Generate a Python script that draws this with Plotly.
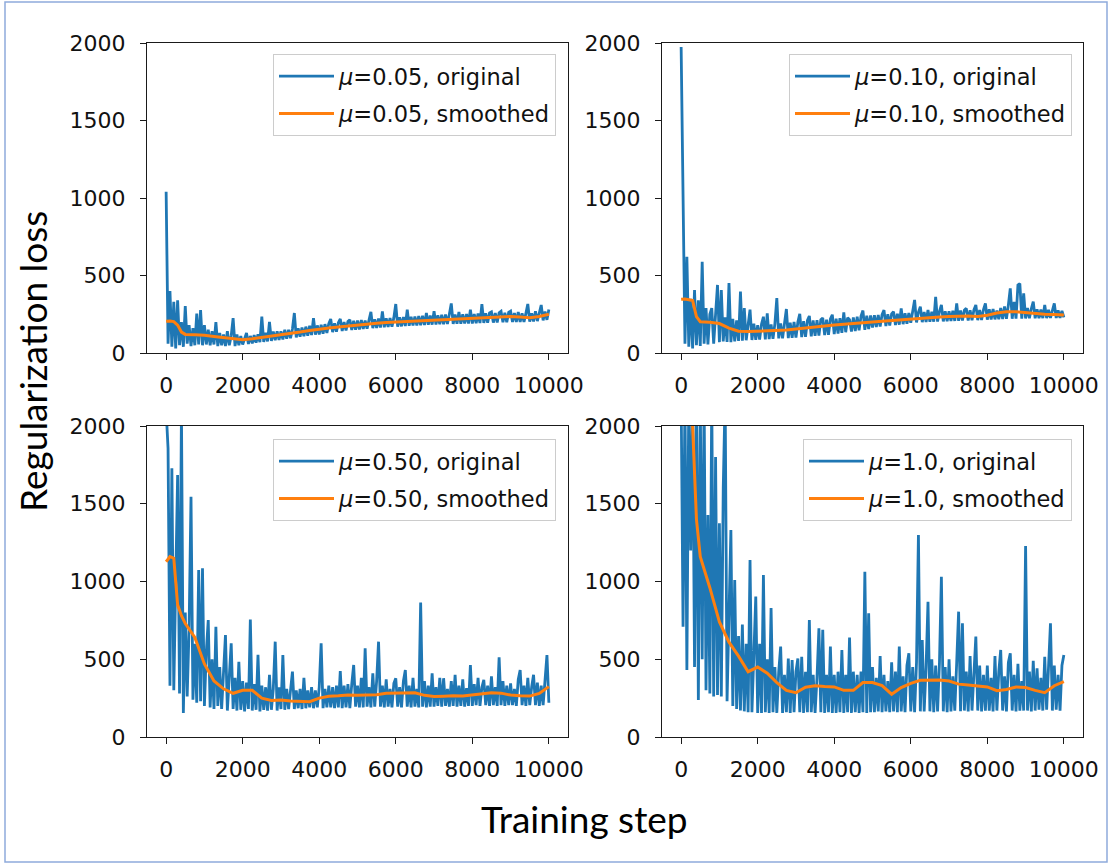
import plotly.graph_objects as go

# ---------------- data ----------------
steps_orig = list(range(0, 10001, 50))
steps_smooth = [0, 100, 200, 300, 400, 500] + list(range(750, 10001, 250))

x_tickvals = [0, 2000, 4000, 6000, 8000, 10000]
x_ticktext = ["0", "2000", "4000", "6000", "8000", "10000"]
y_tickvals = [0, 500, 1000, 1500, 2000]
y_ticktext = ["0", "500", "1000", "1500", "2000"]

mu_labels = ["0.05", "0.10", "0.50", "1.0"]

orig_005 = (
    [1040, 60, 400, 40, 330, 30, 340, 50, 200, 40, 303, 60, 180, 45, 160, 50, 255, 55, 277, 50]
    + [180, 55, 150, 50, 140, 55, 200, 45, 130, 50, 120, 45, 140, 50, 110, 225, 45, 120, 50, 110]
    + [55, 100, 129, 58, 110, 62, 115, 66, 120, 70, 234, 72, 130, 75, 200, 78, 138, 82, 140, 85]
    + [140, 88, 150, 92, 150, 96, 155, 258, 100, 160, 105, 165, 108, 170, 112, 175, 116, 225, 118, 178]
    + [120, 182, 125, 186, 130, 190, 219, 135, 192, 138, 196, 220, 142, 200, 145, 203, 215, 148, 208, 150]
    + [210, 152, 212, 155, 210, 157, 214, 265, 160, 218, 162, 222, 164, 269, 166, 224, 168, 226, 169, 228]
    + [316, 170, 230, 172, 232, 174, 280, 176, 234, 177, 236, 178, 238, 180, 240, 181, 258, 182, 242, 183]
    + [269, 184, 244, 185, 246, 186, 248, 187, 250, 320, 188, 248, 189, 265, 189, 250, 190, 252, 190, 280]
    + [190, 252, 192, 254, 193, 316, 194, 256, 195, 258, 265, 196, 258, 197, 260, 269, 198, 260, 199, 262]
    + [270, 200, 258, 200, 265, 200, 256, 201, 256, 316, 202, 256, 204, 270, 206, 262, 310, 210, 268, 214]
    + [280]
)
smooth_005 = [205, 207, 203, 180, 135, 120,
              118, 115, 107, 100, 90, 85, 92, 100, 108, 115, 125, 135, 145, 155, 162, 168, 175, 180,
              186, 192, 197, 200, 204, 208, 212, 215, 217, 220, 222, 225, 228, 230, 233, 235, 232, 228, 235, 250]

orig_010 = (
    [1974, 880, 60, 621, 40, 350, 30, 406, 50, 340, 45, 589, 60, 290, 55, 250, 290, 60, 260, 439]
    + [70, 406, 75, 230, 72, 452, 70, 220, 75, 210, 78, 396, 80, 290, 82, 200, 280, 84, 190, 85]
    + [180, 86, 185, 234, 88, 256, 90, 185, 92, 190, 355, 94, 190, 95, 195, 284, 96, 195, 98, 200]
    + [100, 200, 252, 102, 205, 105, 210, 239, 108, 210, 110, 212, 112, 215, 226, 115, 215, 118, 220, 247]
    + [122, 222, 126, 224, 130, 262, 134, 228, 215, 138, 230, 142, 234, 146, 238, 274, 150, 240, 154, 242]
    + [165, 244, 168, 246, 171, 248, 277, 174, 250, 177, 252, 267, 180, 254, 183, 288, 186, 256, 189, 258]
    + [195, 260, 342, 197, 262, 299, 199, 264, 200, 277, 201, 266, 202, 363, 203, 268, 310, 204, 270, 205]
    + [270, 206, 272, 207, 320, 208, 274, 209, 276, 288, 210, 276, 211, 278, 310, 212, 278, 213, 280, 320]
    + [215, 282, 216, 284, 217, 274, 218, 290, 219, 300, 220, 310, 417, 221, 330, 222, 439, 448, 222, 385]
    + [223, 290, 224, 285, 331, 224, 282, 225, 280, 225, 310, 225, 278, 226, 276, 320, 226, 275, 226, 272]
    + [230]
)
smooth_010 = [346, 348, 344, 338, 235, 202,
              198, 190, 160, 140, 138, 140, 145, 145, 148, 155, 160, 167, 174, 180, 186, 192, 196, 200,
              205, 210, 215, 219, 223, 227, 232, 235, 237, 238, 235, 244, 258, 266, 266, 260, 255, 250, 248, 245]

orig_050 = (
    [2100, 1858, 330, 1729, 300, 900, 1685, 280, 2100, 154, 800, 260, 700, 1545, 240, 600, 220, 1074, 230, 1085]
    + [200, 550, 752, 190, 500, 180, 709, 200, 450, 180, 420, 656, 170, 400, 602, 180, 380, 170, 484, 175]
    + [360, 165, 350, 180, 756, 170, 340, 175, 528, 165, 330, 175, 320, 170, 400, 175, 310, 613, 170, 320]
    + [180, 527, 175, 310, 180, 300, 420, 180, 300, 185, 310, 180, 380, 185, 300, 190, 320, 185, 300, 190]
    + [320, 602, 185, 310, 190, 330, 190, 320, 185, 330, 190, 424, 185, 330, 190, 340, 185, 340, 463, 195]
    + [330, 190, 380, 190, 570, 195, 320, 190, 410, 195, 360, 613, 195, 330, 190, 370, 195, 310, 190, 345]
    + [378, 195, 320, 190, 360, 431, 195, 330, 190, 380, 195, 310, 190, 864, 195, 360, 190, 330, 195, 410]
    + [195, 320, 200, 380, 195, 378, 200, 310, 195, 360, 200, 400, 195, 330, 200, 370, 195, 315, 200, 463]
    + [200, 340, 205, 380, 200, 320, 367, 205, 330, 200, 390, 205, 320, 200, 513, 205, 360, 200, 330, 205]
    + [345, 205, 310, 200, 370, 431, 205, 330, 200, 380, 205, 320, 400, 205, 350, 200, 330, 205, 360, 527]
    + [220]
)
smooth_050 = [1127, 1160, 1150, 850, 780, 730,
              640, 470, 360, 310, 281, 300, 300, 250, 235, 238, 232, 230, 227, 250, 262, 265, 270, 268,
              270, 272, 281, 283, 285, 285, 268, 260, 262, 265, 263, 270, 278, 285, 282, 270, 265, 263, 280, 324]

orig_100 = (
    [2200, 709, 2200, 431, 2200, 1200, 2200, 450, 2200, 238, 2200, 500, 2200, 300, 1428, 280, 2200, 260, 1800, 270]
    + [1375, 260, 1600, 2200, 230, 900, 1331, 200, 1010, 180, 650, 170, 724, 165, 600, 160, 1138, 160, 500, 903]
    + [155, 600, 155, 1042, 160, 500, 155, 829, 160, 450, 155, 420, 581, 155, 400, 160, 505, 155, 495, 160]
    + [420, 505, 160, 516, 155, 420, 160, 752, 160, 400, 155, 380, 699, 160, 690, 155, 400, 160, 581, 155]
    + [400, 155, 420, 160, 560, 155, 400, 160, 640, 155, 420, 160, 400, 155, 420, 160, 1063, 155, 795, 160]
    + [450, 160, 380, 165, 520, 160, 400, 165, 360, 160, 480, 165, 420, 160, 581, 165, 390, 160, 460, 538]
    + [165, 450, 160, 480, 1299, 165, 624, 165, 450, 870, 165, 500, 160, 460, 165, 480, 1031, 165, 450, 160]
    + [500, 165, 390, 170, 480, 806, 165, 731, 170, 420, 165, 520, 170, 380, 646, 170, 460, 165, 400, 170]
    + [460, 170, 380, 165, 520, 170, 420, 560, 170, 390, 165, 480, 538, 170, 400, 165, 470, 170, 360, 170]
    + [1228, 170, 420, 165, 490, 170, 442, 175, 380, 170, 516, 175, 420, 731, 170, 460, 175, 400, 170, 460]
    + [527]
)
smooth_100 = [2600, 2500, 2300, 2000, 1400, 1160,
              960, 740, 610, 520, 420, 450, 410, 350, 300, 285, 320, 330, 325, 322, 300, 300, 350, 350,
              330, 275, 318, 345, 365, 368, 367, 360, 340, 335, 328, 322, 298, 305, 322, 318, 300, 285, 330, 356]

originals = [orig_005, orig_010, orig_050, orig_100]
smootheds = [smooth_005, smooth_010, smooth_050, smooth_100]

# ---------------- styling ----------------
W, H = 1110, 865
BLUE = "#1f77b4"
ORANGE = "#ff7f0e"
AX = "#1a1a1a"
TICKFONT = dict(family="DejaVu Sans", size=22, color="#111111")

# pixel boxes of the four axes: (left, right, top, bottom)
boxes = [(147, 568, 43, 353), (662, 1083, 43, 353),
         (147, 568, 426, 737), (662, 1083, 426, 737)]
legend_pos = [(556, 54), (1072, 54), (556, 439), (1072, 439)]

fig = go.Figure()
layout = dict(template="none", width=W, height=H,
              margin=dict(l=0, r=0, t=0, b=0, pad=0, autoexpand=False),
              paper_bgcolor="white", plot_bgcolor="white", showlegend=True)

for i in range(4):
    n = "" if i == 0 else str(i + 1)
    leg = "legend" + n
    fig.add_trace(go.Scatter(
        x=steps_orig, y=originals[i], mode="lines",
        line=dict(color=BLUE, width=2.8),
        name="<i>μ</i>=%s, original" % mu_labels[i],
        xaxis="x" + n, yaxis="y" + n, legend=leg, legendgroup="o%d" % i))
    fig.add_trace(go.Scatter(
        x=steps_smooth, y=smootheds[i], mode="lines",
        line=dict(color=ORANGE, width=3),
        name="<i>μ</i>=%s, smoothed" % mu_labels[i],
        xaxis="x" + n, yaxis="y" + n, legend=leg, legendgroup="s%d" % i))

    l, r, t, b = boxes[i]
    common = dict(showline=True, mirror=True, linecolor=AX, linewidth=1.4,
                  ticks="outside", ticklen=6, tickwidth=1.4, tickcolor=AX,
                  showgrid=False, zeroline=False, tickfont=TICKFONT,
                  tickmode="array", fixedrange=True, automargin=False)
    layout["xaxis" + n] = dict(common, domain=[l / W, r / W], anchor="y" + n,
                               range=[-500, 10500], tickvals=x_tickvals,
                               ticktext=x_ticktext, ticklabelstandoff=6)
    layout["yaxis" + n] = dict(common, domain=[1 - b / H, 1 - t / H], anchor="x" + n,
                               range=[0, 2000], tickvals=y_tickvals,
                               ticktext=y_ticktext, ticklabelstandoff=10)
    lx, ly = legend_pos[i]
    layout[leg] = dict(x=lx / W, y=1 - ly / H, xanchor="right", yanchor="top",
                       xref="paper", yref="paper", itemwidth=55,
                       bgcolor="rgba(255,255,255,0.8)", bordercolor="#cccccc",
                       borderwidth=1, tracegroupgap=5,
                       font=dict(family="DejaVu Sans", size=22.5, color="#111111"))

fig.update_layout(**layout)

fig.add_annotation(text="Regularization loss", x=32 / W, y=1 - 362 / H,
                   xref="paper", yref="paper", showarrow=False, textangle=-90,
                   xanchor="center", yanchor="middle",
                   font=dict(family="Lato", size=37, color="black"))
fig.add_annotation(text="Training step", x=585 / W, y=1 - 818 / H,
                   xref="paper", yref="paper", showarrow=False,
                   xanchor="center", yanchor="middle",
                   font=dict(family="Lato", size=37, color="black"))

fig.add_shape(type="rect", xref="paper", yref="paper",
              x0=5 / W, x1=1107 / W, y0=1 - 862 / H, y1=1 - 2 / H,
              line=dict(color="#8eaadb", width=1.5), fillcolor="rgba(0,0,0,0)",
              layer="below")

page_fix = ("document.documentElement.style.margin='0';"
            "document.body.style.margin='0';document.body.style.padding='0';"
            "document.body.style.overflow='hidden';"
            "document.documentElement.style.overflow='hidden';")

fig.write_html("out.html", config={"displayModeBar": False},
               post_script=page_fix)
